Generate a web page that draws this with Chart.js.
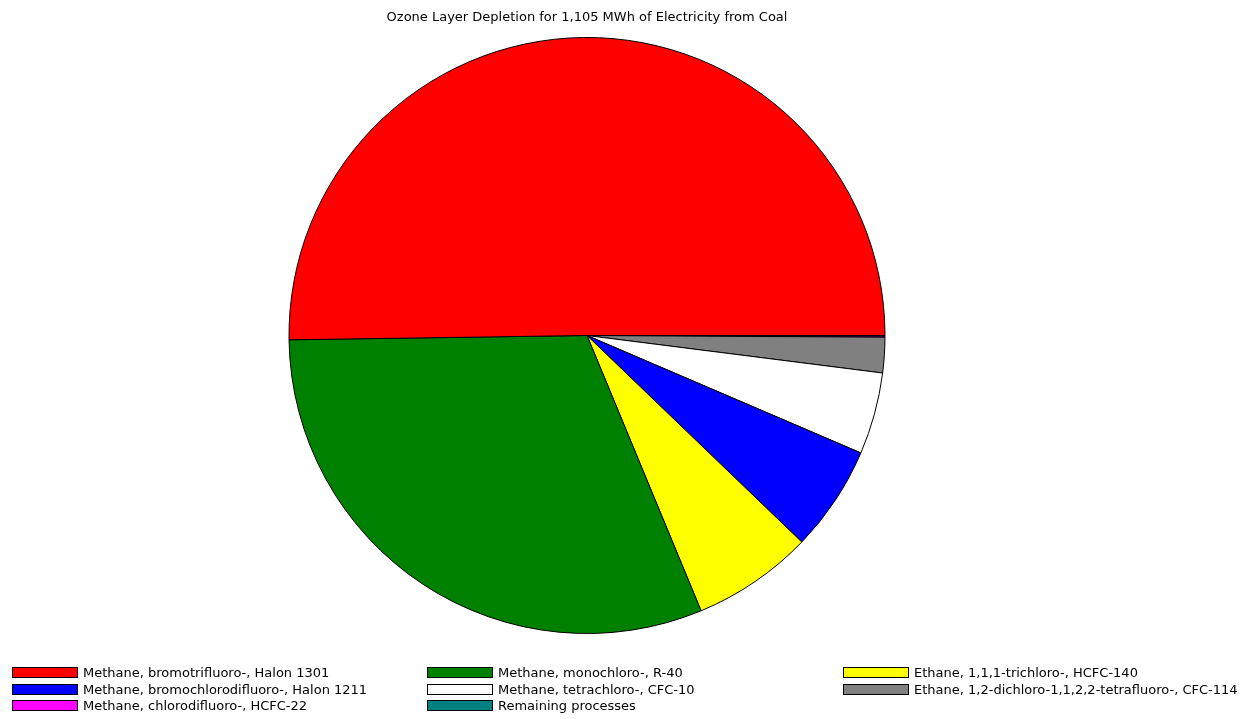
<!DOCTYPE html>
<html>
<head>
<meta charset="utf-8">
<script src="https://cdn.jsdelivr.net/npm/chart.js@4"></script>
<style>
  html, body { margin: 0; padding: 0; background: #fff; }
  #wrap { position: relative; width: 1255px; height: 719px; }
  #chart { position: absolute; left: 0; top: 0; }
  .leg { position: absolute; display: flex; align-items: center; height: 12px;
         font-family: "DejaVu Sans", sans-serif; font-size: 13px; color: #000; white-space: nowrap; }
  .sw { width: 66px; height: 11px; box-sizing: border-box; border: 1px solid #000; margin-right: 5px; flex: none; }
</style>
</head>
<body>
<div id="wrap">
  <canvas id="chart" width="1255" height="719"></canvas>
</div>
<script>
// Substance contributions to ozone layer depletion (share of total, %)
const substances = [
  "Methane, bromotrifluoro-, Halon 1301",
  "Methane, monochloro-, R-40",
  "Ethane, 1,1,1-trichloro-, HCFC-140",
  "Methane, bromochlorodifluoro-, Halon 1211",
  "Methane, tetrachloro-, CFC-10",
  "Ethane, 1,2-dichloro-1,1,2,2-tetrafluoro-, CFC-114",
  "Methane, chlorodifluoro-, HCFC-22",
  "Remaining processes"
];
const shares = [50.24, 31.03, 6.56, 5.74, 4.44, 1.92, 0.06, 0.03];
const sliceColors = ["#ff0000", "#008000", "#ffff00", "#0000ff", "#ffffff", "#808080", "#ff00ff", "#008080"];
const chartTitle = "Ozone Layer Depletion for 1,105 MWh of Electricity from Coal";

// Slices run counter-clockwise from 3 o'clock; Chart.js draws clockwise,
// so feed the dataset in reverse order starting at 90 degrees.
const revLabels = substances.slice().reverse();
const revData = shares.slice().reverse();
const revColors = sliceColors.slice().reverse();

new Chart(document.getElementById("chart"), {
  type: "pie",
  data: {
    labels: revLabels,
    datasets: [{
      data: revData,
      backgroundColor: revColors,
      borderColor: "#000",
      borderWidth: 1
    }]
  },
  options: {
    responsive: false,
    animation: false,
    rotation: 90,
    layout: { padding: { left: 288, right: 369, top: 0, bottom: 85 } },
    plugins: {
      legend: { display: false },
      tooltip: { enabled: false },
      title: {
        display: true,
        text: chartTitle,
        color: "#000",
        font: { family: "DejaVu Sans", size: 13, weight: "normal", lineHeight: 1.2 },
        padding: { top: 10, bottom: 11.4 }
      }
    }
  }
});

// Legend: three columns, filled row by row
const wrap = document.getElementById("wrap");
const colX = [12, 427, 843];
substances.forEach((name, i) => {
  const row = Math.floor(i / 3), col = i % 3;
  const item = document.createElement("div");
  item.className = "leg";
  item.style.left = colX[col] + "px";
  item.style.top = (666.5 + row * 16.5) + "px";
  const sw = document.createElement("span");
  sw.className = "sw";
  sw.style.background = sliceColors[i];
  const txt = document.createElement("span");
  txt.textContent = name;
  item.appendChild(sw);
  item.appendChild(txt);
  wrap.appendChild(item);
});
</script>
</body>
</html>
